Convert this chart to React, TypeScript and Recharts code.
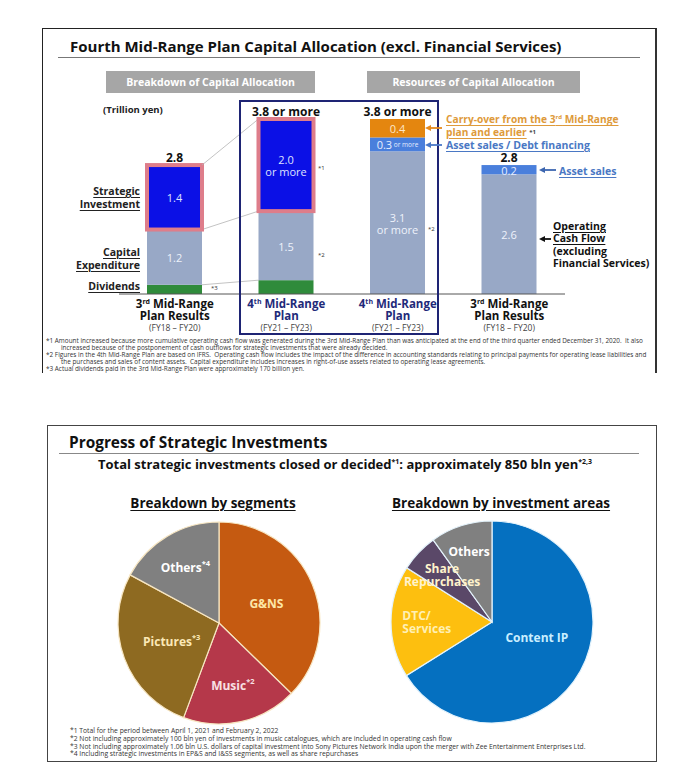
import React from 'react';
import { BarChart, Bar, XAxis, YAxis, LabelList, PieChart, Pie, Cell } from 'recharts';

const FONT = '"Open Sans", "DejaVu Sans", sans-serif';

// ---- Fourth Mid-Range Plan capital allocation (trillion yen) ----
const planKeys = ['r3', 'p4', 's4', 's3'];
const planNumbers = ['3', '4', '4', '3'];
const planOrdinals = ['rd', 'th', 'th', 'rd'];
const planLine2 = ['Plan Results', 'Plan', 'Plan', 'Plan Results'];
const planPeriods = ['(FY18 \u2013 FY20)', '(FY21 \u2013 FY23)', '(FY21 \u2013 FY23)', '(FY18 \u2013 FY20)'];
const planIsNew = [false, true, true, false];

// uses of capital
const dividends = [0.2, 0.3, 0, 0];
const capex = [1.2, 1.5, 0, 0];
const strategic = [1.4, 2.0, 0, 0];
// resources of capital
const operatingCF = [0, 0, 3.1, 2.6];
const assetSales = [0, 0, 0.3, 0.2];
const carryOver = [0, 0, 0.4, 0];

const totalLabels = ['2.8', '3.8 or more', '3.8 or more', '2.8'];
const capexLabels = ['1.2', '1.5', '', ''];
const strategicLabels = ['1.4', '2.0|or more', '', ''];
const ocfLabels = ['', '', '3.1|or more', '2.6'];
const assetLabels = ['', '', '0.3~or more', '0.2'];
const carryLabels = ['', '', '0.4', ''];

// ---- Progress of strategic investments (share of ~850 bln yen) ----
const segmentNames = ['G&NS', 'Music', 'Pictures', 'Others'];
const segmentNotes = ['', '*2', '*3', '*4'];
const segmentShares = [37.3, 18.4, 27.2, 17.1];

const areaNames = ['Content IP', 'DTC/|Services', 'Share|Repurchases', 'Others'];
const areaShares = [66.1, 17.9, 6.1, 9.9];

const C = {
  strategic: '#0b10e6',
  pink: '#de7d8a',
  slate: '#98a8c6',
  green: '#2f8b3b',
  assetBlue: '#4a7fdc',
  orange: '#e4860f',
  navy: '#1e2474',
};
const segmentColors = ['#c55a11', '#b5384a', '#8e6a21', '#808080'];
const segmentTextColors = ['#fde7a8', '#f8e0e4', '#fbe8b6', '#ffffff'];
const areaColors = ['#0570c0', '#fdbf0f', '#5a4868', '#808080'];
const areaTextColors = ['#c9eeff', '#fff0b4', '#fff3cc', '#ffffff'];

// label placement inside the pies (fraction of radius, angle shift in degrees, text anchor)
const segmentLabelRadius = [0.51, 0.63, 0.5, 0.65];
const areaLabelRadius = [0.47, 0.63, 0.68, 0.74];
const areaLabelShift = [10, 0, 0, 0];
const areaLabelAnchor = ['middle', 'start', 'middle', 'middle'];

const rows = planKeys.map((key, i) => ({
  key,
  dividends: dividends[i],
  capex: capex[i],
  strategic: strategic[i],
  operatingCF: operatingCF[i],
  assetSales: assetSales[i],
  carryOver: carryOver[i],
  total: totalLabels[i],
  capexLabel: capexLabels[i],
  strategicLabel: strategicLabels[i],
  ocfLabel: ocfLabels[i],
  assetLabel: assetLabels[i],
  carryLabel: carryLabels[i],
}));

const PLOT_LEFT = 119;
const PLOT_WIDTH = 446;
const BAND = PLOT_WIDTH / planKeys.length;
const LINKED = ['dividends', 'capex', 'strategic'];

// bar segment; the 4th plan bar also draws the thin guide back to the 3rd plan results bar
const segmentShape = (level: number, fill: string, stroke?: string) => (props: any) => {
  const { x, y, width, height } = props;
  if (!height || height <= 0) return <g />;
  const key = props.payload?.key ?? planKeys[props.index];
  let link = null;
  if (level >= 0 && key === 'p4') {
    const cum = (r: any) => LINKED.slice(0, level + 1).reduce((s, k) => s + r[k], 0);
    const ppu = height / (rows[1] as any)[LINKED[level]];
    const base = y + cum(rows[1]) * ppu;
    const prevTop = base - cum(rows[0]) * ppu;
    link = <line x1={x - BAND + width} y1={prevTop} x2={x} y2={y} stroke="#b4b4b4" strokeWidth={0.8} />;
  }
  return (
    <g>
      {link}
      <rect x={x} y={y} width={width} height={height} fill={fill} stroke={stroke || 'none'} strokeWidth={stroke ? 4 : 0} />
    </g>
  );
};

const centerLabel = (color = '#eef2fb') => (props: any) => {
  const { x, y, width, height, value } = props;
  if (!value) return null;
  const cx = x + width / 2;
  const cy = y + height / 2;
  const s = String(value);
  if (s.includes('~')) {
    const [big, small] = s.split('~');
    return (
      <text x={cx} y={cy} textAnchor="middle" dominantBaseline="central" fill={color} fontFamily={FONT} fontSize={11}>
        {big}
        <tspan fontSize={6.5}> {small}</tspan>
      </text>
    );
  }
  const lines = s.split('|');
  const lh = 12;
  return (
    <text x={cx} y={cy - ((lines.length - 1) * lh) / 2} textAnchor="middle" dominantBaseline="central" fill={color} fontFamily={FONT} fontSize={11}>
      {lines.map((l, i) => (
        <tspan key={i} x={cx} dy={i === 0 ? 0 : lh}>{l}</tspan>
      ))}
    </text>
  );
};

const totalLabel = (props: any) => {
  const { x, y, width, value } = props;
  if (!value) return null;
  return (
    <text x={x + width / 2} y={y - 3.5} textAnchor="middle" fill="#111" fontFamily={FONT} fontSize={12} fontWeight="bold">
      {value}
    </text>
  );
};

const PlanTick = (props: any) => {
  const { x, y, payload } = props;
  const i = planKeys.indexOf(payload.value);
  const color = planIsNew[i] ? '#1f2a7a' : '#111';
  return (
    <g fontFamily={FONT}>
      <text x={x} y={y + 14} textAnchor="middle" fontSize={11.5} fontWeight="bold" fill={color}>
        {planNumbers[i]}
        <tspan fontSize={7} dy={-4}>{planOrdinals[i]}</tspan>
        <tspan dy={4}> Mid-Range</tspan>
      </text>
      <text x={x} y={y + 26} textAnchor="middle" fontSize={11.5} fontWeight="bold" fill={color}>
        {planLine2[i]}
      </text>
      <text x={x} y={y + 37} textAnchor="middle" fontSize={8.5} fill="#444">
        {planPeriods[i]}
      </text>
    </g>
  );
};

const pieLabel = (names: string[], notes: string[], colors: string[], radii: number[], shifts: number[], anchors?: string[]) => (props: any) => {
  const { cx, cy, midAngle, outerRadius, index } = props;
  const a = ((midAngle + shifts[index]) * Math.PI) / 180;
  const r = outerRadius * radii[index];
  const anchor = anchors ? anchors[index] : 'middle';
  const x = cx + r * Math.cos(a) - (anchor === 'start' ? 26 : 0);
  const y = cy - r * Math.sin(a);
  const lines = names[index].split('|');
  const lh = 13;
  return (
    <text x={x} y={y - ((lines.length - 1) * lh) / 2} textAnchor={anchor} dominantBaseline="central" fill={colors[index]} fontFamily={FONT} fontSize={12} fontWeight="bold">
      {lines.map((l, i) => (
        <tspan key={i} x={x} dy={i === 0 ? 0 : lh}>{l}</tspan>
      ))}
      {notes[index] ? <tspan fontSize={7.5} dy={-4}>{notes[index]}</tspan> : null}
    </text>
  );
};

const abs = (left: number, top: number, extra: React.CSSProperties = {}): React.CSSProperties => ({
  position: 'absolute', left, top, ...extra,
});

const under: React.CSSProperties = { textDecoration: 'underline', textUnderlineOffset: 2 };

const TopSlide = () => (
  <div style={abs(0, 0, { width: 697, height: 373, overflow: 'hidden' })}>
    <div style={abs(42, 28, { width: 612, height: 400, borderTop: '1px solid #222', borderLeft: '1.5px solid #222', borderRight: '2px solid #333' })} />
    <div style={abs(70, 36, { fontSize: 15, fontWeight: 'bold', color: '#111', whiteSpace: 'nowrap' })}>
      Fourth Mid-Range Plan Capital Allocation (excl. Financial Services)
    </div>
    <div style={abs(58, 57, { width: 582, height: 1, background: '#777' })} />
    <div style={abs(106, 71, { width: 209, height: 22, lineHeight: '22px', background: '#a6a6a6', color: '#fff', fontSize: 10.5, fontWeight: 'bold', textAlign: 'center' })}>
      Breakdown of Capital Allocation
    </div>
    <div style={abs(367, 71, { width: 213, height: 22, lineHeight: '22px', background: '#a6a6a6', color: '#fff', fontSize: 10.5, fontWeight: 'bold', textAlign: 'center' })}>
      Resources of Capital Allocation
    </div>
    <div style={abs(103, 103, { fontSize: 9.5, fontWeight: 'bold', color: '#222' })}>(Trillion yen)</div>

    <div style={abs(0, 100)}>
      <BarChart width={697} height={250} data={rows} margin={{ top: 9.8, right: 697 - PLOT_LEFT - PLOT_WIDTH, bottom: 6, left: PLOT_LEFT }}>
        <XAxis dataKey="key" height={50} tick={<PlanTick />} tickLine={false} tickSize={0} tickMargin={0} axisLine={{ stroke: '#555', strokeWidth: 1 }} interval={0} />
        <YAxis hide domain={[0, 4]} />
        <Bar dataKey="dividends" stackId="a" barSize={55} isAnimationActive={false} shape={segmentShape(0, C.green)} />
        <Bar dataKey="capex" stackId="a" barSize={55} isAnimationActive={false} shape={segmentShape(1, C.slate)}>
          <LabelList dataKey="capexLabel" content={centerLabel()} />
        </Bar>
        <Bar dataKey="strategic" stackId="a" barSize={55} isAnimationActive={false} shape={segmentShape(2, C.strategic, C.pink)}>
          <LabelList dataKey="strategicLabel" content={centerLabel('#dfe3ff')} />
        </Bar>
        <Bar dataKey="operatingCF" stackId="a" barSize={55} isAnimationActive={false} shape={segmentShape(-1, C.slate)}>
          <LabelList dataKey="ocfLabel" content={centerLabel()} />
        </Bar>
        <Bar dataKey="assetSales" stackId="a" barSize={55} isAnimationActive={false} shape={segmentShape(-1, C.assetBlue)}>
          <LabelList dataKey="assetLabel" content={centerLabel('#e6eeff')} />
        </Bar>
        <Bar dataKey="carryOver" stackId="a" barSize={55} isAnimationActive={false} shape={segmentShape(-1, C.orange)}>
          <LabelList dataKey="carryLabel" content={centerLabel('#fde6c8')} />
          <LabelList dataKey="total" content={totalLabel} />
        </Bar>
      </BarChart>
    </div>

    <div style={abs(239, 100, { width: 196, height: 231, border: `2px solid ${C.navy}` })} />

    {/* left captions */}
    <div style={{ ...abs(0, 185), width: 140, textAlign: 'right', fontSize: 10.5, fontWeight: 'bold', lineHeight: '13px', color: '#222', ...under }}>
      Strategic<br />Investment
    </div>
    <div style={{ ...abs(0, 246), width: 140, textAlign: 'right', fontSize: 10.5, fontWeight: 'bold', lineHeight: '12.5px', color: '#222', ...under }}>
      Capital<br />Expenditure
    </div>
    <div style={{ ...abs(0, 280), width: 140, textAlign: 'right', fontSize: 10.5, fontWeight: 'bold', lineHeight: '13px', color: '#222', ...under }}>
      Dividends
    </div>

    {/* note markers */}
    <div style={abs(318, 164, { fontSize: 6, color: '#333' })}>*1</div>
    <div style={abs(318, 251, { fontSize: 6, color: '#333' })}>*2</div>
    <div style={abs(211, 284, { fontSize: 6, color: '#333' })}>*3</div>
    <div style={abs(428, 225, { fontSize: 6, color: '#333' })}>*2</div>

    {/* right captions */}
    <div style={abs(446, 111, { fontSize: 10.2, fontWeight: 'bold', lineHeight: '12.5px', color: '#de9a3a', whiteSpace: 'nowrap' })}>
      <span style={under}>Carry-over from the 3<sup style={{ fontSize: 6 }}>rd</sup> Mid-Range</span>
      <br />
      <span style={under}>plan and earlier</span> <span style={{ fontSize: 6, color: '#444', verticalAlign: 'top' }}>*1</span>
    </div>
    <div style={abs(446, 139, { fontSize: 10.5, fontWeight: 'bold', lineHeight: '12px', color: '#4a78c4', whiteSpace: 'nowrap', ...under })}>
      Asset sales / Debt financing
    </div>
    <div style={abs(559, 165, { fontSize: 10.5, fontWeight: 'bold', lineHeight: '12px', color: '#4a78c4', whiteSpace: 'nowrap', ...under })}>
      Asset sales
    </div>
    <div style={abs(553, 220, { fontSize: 10.5, fontWeight: 'bold', lineHeight: '12.3px', color: '#111', whiteSpace: 'nowrap' })}>
      <span style={under}>Operating</span><br />
      <span style={under}>Cash Flow</span><br />
      (excluding<br />
      Financial Services)
    </div>
    <svg width={697} height={373} style={abs(0, 0, { pointerEvents: 'none' })}>
      <line x1={442} y1={128} x2={430} y2={128} stroke="#e58a1f" strokeWidth={1.8} />
      <polygon points="425,128 431,125 431,131" fill="#e58a1f" />
      <line x1={442} y1={145} x2={430} y2={145} stroke="#4a78c8" strokeWidth={1.8} />
      <polygon points="425,145 431,142 431,148" fill="#4a78c8" />
      <line x1={556} y1={170} x2={544} y2={170} stroke="#3d66b0" strokeWidth={1.8} />
      <polygon points="539,170 545,167 545,173" fill="#3d66b0" />
      <line x1={551} y1={239} x2={544} y2={239} stroke="#111" strokeWidth={1.8} />
      <polygon points="539,239 545,236 545,242" fill="#111" />
    </svg>

    <div style={abs(46, 337, { fontSize: 6.4, lineHeight: '7px', color: '#333', whiteSpace: 'nowrap' })}>
      <div>*1 Amount increased because more cumulative operating cash flow was generated during the 3rd Mid-Range Plan than was anticipated at the end of the third quarter ended December 31, 2020.&nbsp; It also</div>
      <div style={{ paddingLeft: 15 }}>increased because of the postponement of cash outflows for strategic investments that were already decided.</div>
      <div>*2 Figures in the 4th Mid-Range Plan are based on IFRS.&nbsp; Operating cash flow includes the impact of the difference in accounting standards relating to principal payments for operating lease liabilities and</div>
      <div style={{ paddingLeft: 15 }}>the purchases and sales of content assets.&nbsp; Capital expenditure includes increases in right-of-use assets related to operating lease agreements.</div>
      <div>*3 Actual dividends paid in the 3rd Mid-Range Plan were approximately 170 billion yen.</div>
    </div>
  </div>
);

const segmentData = segmentNames.map((name, i) => ({ name, value: segmentShares[i] }));
const areaData = areaNames.map((name, i) => ({ name, value: areaShares[i] }));

const BottomSlide = () => (
  <div>
    <div style={abs(47, 425, { width: 608, height: 335, border: '1px solid #444' })} />
    <div style={abs(69, 432, { fontSize: 15.4, fontWeight: 'bold', color: '#111', whiteSpace: 'nowrap' })}>Progress of Strategic Investments</div>
    <div style={abs(59, 453, { width: 580, height: 1, background: '#888' })} />
    <div style={abs(47, 455, { width: 596, textAlign: 'center', fontSize: 13, fontWeight: 'bold', color: '#111', whiteSpace: 'nowrap' })}>
      Total strategic investments closed or decided<sup style={{ fontSize: 7 }}>*1</sup>: approximately 850 bln yen<sup style={{ fontSize: 7 }}>*2,3</sup>
    </div>
    <div style={abs(83, 494, { width: 260, textAlign: 'center', fontSize: 13.5, fontWeight: 'bold', color: '#111', ...under })}>Breakdown by segments</div>
    <div style={abs(371, 494, { width: 260, textAlign: 'center', fontSize: 13.5, fontWeight: 'bold', color: '#111', ...under })}>Breakdown by investment areas</div>

    <div style={abs(84, 503)}>
      <PieChart width={260} height={230}>
        <Pie data={segmentData} dataKey="value" nameKey="name" cx={130} cy={115} outerRadius={101} startAngle={90} endAngle={-270}
          stroke="#f7e6c2" strokeWidth={1.2} isAnimationActive={false} labelLine={false}
          label={pieLabel(segmentNames, segmentNotes, segmentTextColors, segmentLabelRadius, [0, 0, 0, 0])}>
          {segmentData.map((d, i) => <Cell key={d.name} fill={segmentColors[i]} />)}
        </Pie>
      </PieChart>
    </div>
    <div style={abs(357, 502)}>
      <PieChart width={260} height={230}>
        <Pie data={areaData} dataKey="value" nameKey="name" cx={130} cy={115} outerRadius={101} startAngle={90} endAngle={-270}
          stroke="#e4f3fc" strokeWidth={1.2} isAnimationActive={false} labelLine={false}
          label={pieLabel(areaNames, ['', '', '', ''], areaTextColors, areaLabelRadius, areaLabelShift, areaLabelAnchor)}>
          {areaData.map((d, i) => <Cell key={d.name} fill={areaColors[i]} />)}
        </Pie>
      </PieChart>
    </div>

    <div style={abs(70, 727, { fontSize: 6.75, lineHeight: '7.8px', color: '#333', whiteSpace: 'nowrap' })}>
      <div>*1 Total for the period between April 1, 2021 and February 2, 2022</div>
      <div>*2 Not including approximately 100 bln yen of investments in music catalogues, which are included in operating cash flow</div>
      <div>*3 Not including approximately 1.06 bln U.S. dollars of capital investment into Sony Pictures Network India upon the merger with Zee Entertainment Enterprises Ltd.</div>
      <div>*4 Including strategic investments in EP&amp;S and I&amp;SS segments, as well as share repurchases</div>
    </div>
  </div>
);

export default function App() {
  return (
    <div style={{ position: 'absolute', left: 0, top: 0, width: 697, height: 778, background: '#fff', fontFamily: FONT, overflow: 'hidden' }}>
      <TopSlide />
      <BottomSlide />
    </div>
  );
}
